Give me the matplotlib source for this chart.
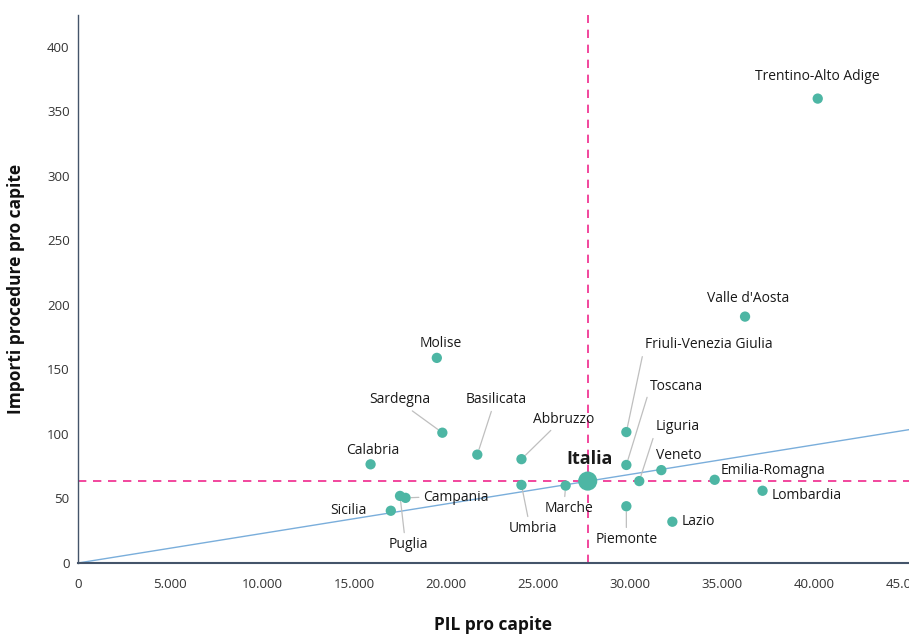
import matplotlib
matplotlib.use("Agg")
import matplotlib.pyplot as plt
import numpy as np

plt.rcParams['font.family'] = ['Open Sans', 'DejaVu Sans']

regions = ["Trentino-Alto Adige", "Valle d'Aosta", "Molise", "Sardegna", "Basilicata",
           "Abbruzzo", "Calabria", "Friuli-Venezia Giulia", "Toscana", "Liguria", "Veneto",
           "Emilia-Romagna", "Lombardia", "Lazio", "Piemonte", "Marche", "Umbria",
           "Campania", "Puglia", "Sicilia"]
pil = [40200, 36250, 19500, 19800, 21700, 24100, 15900, 29800, 29800, 30500, 31700,
       34600, 37200, 32300, 29800, 26500, 24100, 17800, 17500, 17000]
importi = [360, 191, 159, 101, 84, 80.5, 76.5, 101.5, 76, 63.5, 72,
           64.5, 56, 32, 44, 60, 60.5, 50.5, 52, 40.5]

italia_pil = 27700
italia_imp = 63.5
trend_slope = 103 / 45000  # regression through origin

x_ticks = [0, 5000, 10000, 15000, 20000, 25000, 30000, 35000, 40000, 45000]
x_ticklabels = ["0", "5.000", "10.000", "15.000", "20.000", "25.000", "30.000", "35.000", "40.000", "45.000"]
y_ticks = [0, 50, 100, 150, 200, 250, 300, 350, 400]

# label placement: (x, y, ha, leader relpos or None)
label_pos = {
    "Trentino-Alto Adige": (40160, 377, 'center', None),
    "Valle d'Aosta": (36400, 205, 'center', None),
    "Molise": (19700, 170.5, 'center', None),
    "Sardegna": (17500, 126.5, 'center', (0.62, 0.0)),
    "Basilicata": (22700, 126.5, 'center', (0.45, 0.0)),
    "Abbruzzo": (26400, 111.5, 'center', (0.35, 0.0)),
    "Calabria": (16000, 87.5, 'center', None),
    "Friuli-Venezia Giulia": (30800, 169, 'left', (0.0, 0.5)),
    "Toscana": (31100, 136.5, 'left', (0.0, 0.5)),
    "Liguria": (31400, 105.5, 'left', (0.0, 0.3)),
    "Veneto": (31400, 83.5, 'left', None),
    "Emilia-Romagna": (34900, 71.5, 'left', None),
    "Lombardia": (37700, 52.5, 'left', None),
    "Lazio": (32800, 32, 'left', None),
    "Piemonte": (29800, 18.5, 'center', (0.5, 1.0)),
    "Marche": (26700, 42.5, 'center', (0.4, 1.0)),
    "Umbria": (24700, 27, 'center', (0.42, 1.0)),
    "Campania": (18750, 51, 'left', (0.0, 0.5)),
    "Puglia": (17970, 14.5, 'center', (0.4, 1.0)),
    "Sicilia": (14700, 40.5, 'center', None),
}

teal = "#4DB6A4"
pink = "#F0288C"
blue = "#7AAEDB"
spine_c = "#44546A"

fig = plt.figure(figsize=(9.09, 6.37), dpi=100)
ax = fig.add_axes([78/909, 1 - 563/637, 1 - 78/909, (563 - 15)/637])
ax.set_xlim(0, 45160)
ax.set_ylim(0, 424.8)

# trend line
xs = np.array([0, 45160])
ax.plot(xs, trend_slope * xs, color=blue, lw=1.0, zorder=1)

# reference lines
ax.axvline(italia_pil, color=pink, lw=1.2, ls=(0, (5, 4)), zorder=2)
ax.axhline(italia_imp, color=pink, lw=1.2, ls=(0, (5, 4)), zorder=2)

ax.scatter(pil, importi, s=55, color=teal, zorder=4, edgecolor='none')
ax.scatter([italia_pil], [italia_imp], s=190, color=teal, zorder=4, edgecolor='none')

for name, px, py in zip(regions, pil, importi):
    tx, ty, ha, rel = label_pos[name]
    if rel is not None:
        ax.annotate(name, xy=(px, py), xytext=(tx, ty), ha=ha, va='center',
                    fontsize=10, color='#1a1a1a', zorder=3,
                    arrowprops=dict(arrowstyle='-', color='#BFBFBF', lw=0.9,
                                    relpos=rel, shrinkA=1, shrinkB=4))
    else:
        ax.text(tx, ty, name, ha=ha, va='center', fontsize=10, color='#1a1a1a', zorder=3)

ax.text(27800, 80.5, "Italia", ha='center', va='center', fontsize=13,
        fontweight='bold', color='#1a1a1a', zorder=5)

for s in ['top', 'right']:
    ax.spines[s].set_visible(False)
ax.spines['left'].set_color(spine_c)
ax.spines['bottom'].set_color(spine_c)
ax.spines['left'].set_linewidth(1.0)
ax.spines['bottom'].set_linewidth(1.5)

ax.set_xticks(x_ticks)
ax.set_xticklabels(x_ticklabels)
ax.set_yticks(y_ticks)
ax.tick_params(axis='both', length=0, labelsize=9.5, colors='#333333')
ax.tick_params(axis='x', pad=11)
ax.tick_params(axis='y', pad=6)

ax.set_xlabel("PIL pro capite", fontsize=12.5, fontweight='bold', labelpad=18, color='#111111')
ax.set_ylabel("Importi procedure pro capite", fontsize=12.5, fontweight='bold', labelpad=16, color='#111111')

fig.savefig("out.png", dpi=100)
